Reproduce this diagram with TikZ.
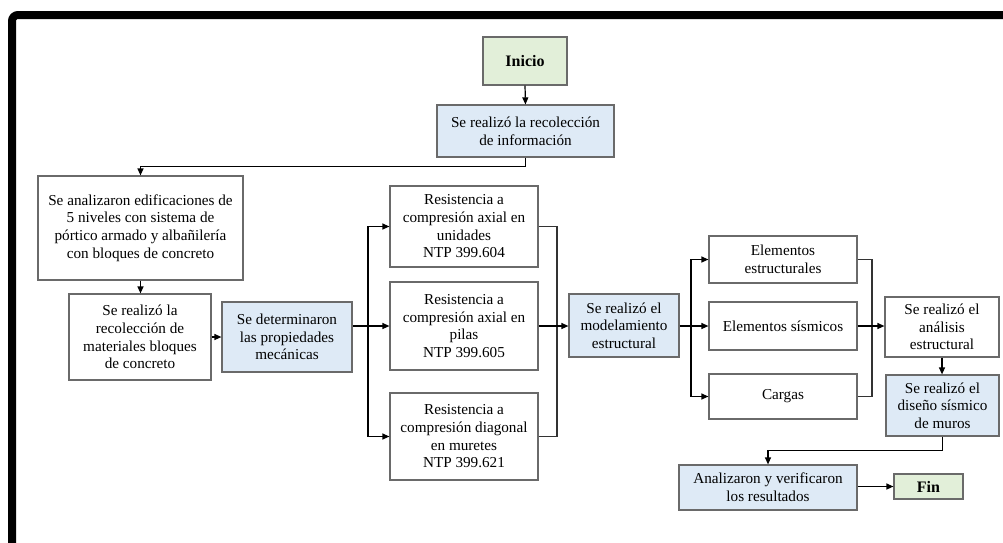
\documentclass[tikz,border=0pt]{standalone}
\usepackage{fontspec}
\setmainfont{Liberation Serif}
\usetikzlibrary{arrows.meta}
\definecolor{boxblue}{HTML}{DEEAF6}
\definecolor{boxgreen}{HTML}{E2EFD9}
\definecolor{boxline}{HTML}{6A6A6A}
\begin{document}
\begin{tikzpicture}[x=1pt,y=-1pt,
  base/.style={draw=boxline, line width=1.2pt, align=center, inner sep=1pt,
    font=\fontsize{15.2}{17.7}\selectfont, anchor=center},
  wbox/.style={base, fill=white},
  bbox/.style={base, fill=boxblue},
  gbox/.style={base, fill=boxgreen, font=\fontsize{16}{18}\selectfont\bfseries},
  arr/.style={draw=black, line width=1.2pt, -{Triangle[length=7pt,width=6pt]}},
  ln/.style={draw=black!80, line width=1.2pt}
]
\useasboundingbox (0,0) rectangle (1003,542);
\fill[white] (0,0) rectangle (1003,542);
% frame
\draw[line width=8pt, rounded corners=6pt] (12,545) -- (12,15) -- (1010,15);

\node[gbox, minimum width=84pt, minimum height=48pt] (inicio) at (525,61) {Inicio};
\node[bbox, minimum width=177pt, minimum height=52pt] (recol) at (525.5,131) {Se realizó la recolección\\de información};
\node[wbox, minimum width=205pt, minimum height=104pt] (edif) at (140.5,228) {Se analizaron edificaciones de\\5 niveles con sistema de\\pórtico armado y albañilería\\con bloques de concreto};
\node[wbox, minimum width=142pt, minimum height=86pt] (mat) at (140,337) {Se realizó la\\recolección de\\materiales bloques\\de concreto};
\node[bbox, minimum width=130pt, minimum height=70pt] (det) at (287,337) {Se determinaron\\las propiedades\\mecánicas};
\node[wbox, minimum width=148pt, minimum height=81pt] (r1) at (464,226.5) {Resistencia a\\compresión axial en\\unidades\\NTP 399.604};
\node[wbox, minimum width=148pt, minimum height=88pt] (r2) at (464,326) {Resistencia a\\compresión axial en\\pilas\\NTP 399.605};
\node[wbox, minimum width=148pt, minimum height=87pt] (r3) at (464,436.5) {Resistencia a\\compresión diagonal\\en muretes\\NTP 399.621};
\node[bbox, minimum width=110pt, minimum height=63pt] (mod) at (624,325.5) {Se realizó el\\modelamiento\\estructural};
\node[wbox, minimum width=148pt, minimum height=47pt] (ee) at (783,259.5) {Elementos\\estructurales};
\node[wbox, minimum width=148pt, minimum height=48pt] (es) at (783,326) {Elementos sísmicos};
\node[wbox, minimum width=148pt, minimum height=45pt] (ca) at (783,396.5) {Cargas};
\node[wbox, minimum width=114pt, minimum height=60pt] (an) at (942,327) {Se realizó el\\análisis\\estructural};
\node[bbox, minimum width=113pt, minimum height=61pt] (dis) at (942.5,405.5) {Se realizó el\\diseño sísmico\\de muros};
\node[bbox, minimum width=178pt, minimum height=45pt] (ver) at (768,487.5) {Analizaron y verificaron\\los resultados};
\node[gbox, minimum width=69pt, minimum height=25pt] (fin) at (928.5,486.5) {Fin};

% connectors
\draw[arr] (inicio.south) -- (recol.north);
\draw[arr] (recol.south) -- ++(0,9) -| (edif.north);
\draw[arr] (edif.south) -- (edif.south |- mat.north);
\draw[arr] (mat.east) -- (mat.east -| det.west);
\coordinate (b1) at (368,326);
\draw[arr] (det.east |- r2.west) -- (r2.west);
\draw[arr] (b1) |- (r1.west);
\draw[arr] (b1) |- (r3.west);
\coordinate (b2) at (557,326);
\draw[ln] (r1.east) -| (b2);
\draw[ln] (r3.east) -| (b2);
\draw[arr] (r2.east) -- (r2.east -| mod.west);
\coordinate (b3) at (691,326);
\draw[arr] (mod.east |- es.west) -- (es.west);
\draw[arr] (b3) |- (ee.west);
\draw[arr] (b3) |- (ca.west);
\coordinate (b4) at (872,326);
\draw[ln] (ee.east) -| (b4);
\draw[ln] (ca.east) -| (b4);
\draw[arr] (es.east) -- (es.east -| an.west);
\draw[arr] (an.south) -- (an.south |- dis.north);
\draw[arr] (dis.south) -- ++(0,14) -| (ver.north);
\draw[arr] (ver.east |- fin.west) -- (fin.west);
\end{tikzpicture}
\end{document}
